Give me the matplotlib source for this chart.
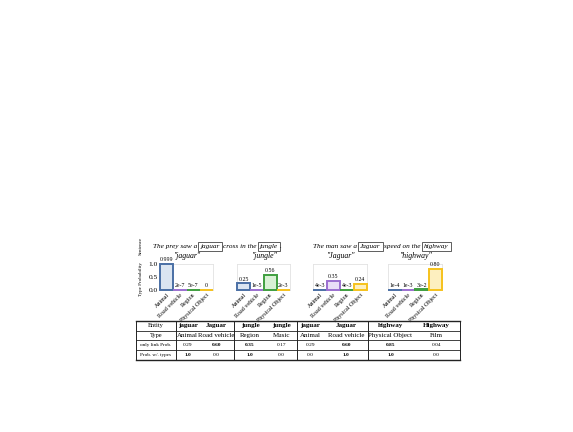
import matplotlib
matplotlib.use("Agg")
import matplotlib.pyplot as plt
from matplotlib.lines import Line2D

W, H = 573, 432
fig = plt.figure(figsize=(W / 100, H / 100), dpi=100)
plt.rcParams['font.family'] = ['Liberation Serif', 'DejaVu Serif']

# ---------------- data ----------------
categories = ["Animal", "Road vehicle", "Region", "Physical Object"]
panel_titles = ['"jaguar"', '"jungle"', '"Jaguar"', '"highway"']
panel_values = [
    [0.999, 2e-7, 5e-7, 0.0],
    [0.25, 1e-5, 0.56, 2e-3],
    [4e-3, 0.35, 4e-3, 0.24],
    [1e-4, 1e-3, 3e-2, 0.80],
]
panel_value_labels = [
    ["0.999", "2e-7", "5e-7", "0"],
    ["0.25", "1e-5", "0.56", "2e-3"],
    ["4e-3", "0.35", "4e-3", "0.24"],
    ["1e-4", "1e-3", "3e-2", "0.80"],
]
sentence_left = [("The prey saw a ", False), ("jaguar", True), (" cross in the ", False),
                 ("jungle", True), (".", False)]
sentence_right = [("The man saw a ", False), ("Jaguar", True), (" speed on the ", False),
                  ("highway", True)]

row_labels = ["Entity", "Type", "only link Prob.", "Prob. w/. types"]
entities = ["jaguar", "Jaguar", "jungle", "jungle", "jaguar", "Jaguar", "highway", "Highway"]
types = ["Animal", "Road vehicle", "Region", "Music", "Animal", "Road vehicle",
         "Physical Object", "Film"]
only_link = [0.29, 0.60, 0.35, 0.17, 0.29, 0.60, 0.85, 0.04]
with_types = [1.0, 0.0, 1.0, 0.0, 0.0, 1.0, 1.0, 0.0]

edge_colors = ["#4a6fa5", "#9b6fd0", "#3f9f3f", "#f6c21c"]
face_colors = ["#dbe5f1", "#e9ddf7", "#d9f1d5", "#fdefbf"]


def fx(x):
    return x / W


def fy(y):
    return 1 - y / H


def add_axes_px(x0, y0, x1, y1):
    return fig.add_axes([fx(x0), fy(y1), (x1 - x0) / W, (y1 - y0) / H])


# ---------------- bar panels ----------------
panel_x = [(160, 213), (237, 290), (313, 367), (388, 442)]
ay0, ay1 = 263.5, 290
for i, (x0, x1) in enumerate(panel_x):
    ax = add_axes_px(x0, ay0, x1, ay1)
    vals = panel_values[i]
    xs = list(range(len(categories)))
    bars = ax.bar(xs, vals, width=1.0, color=face_colors, edgecolor=edge_colors,
                  linewidth=1.4, zorder=3)
    for b in bars:
        b.set_clip_on(False)
    ax.set_xlim(-0.5, 3.5)
    ax.set_ylim(0, 1.0)
    for sp in ax.spines.values():
        sp.set_color("#e2e2e2")
        sp.set_linewidth(0.6)
    ax.set_xticks(xs)
    ax.set_xticklabels(categories, rotation=45, ha="right", rotation_mode="anchor",
                       fontsize=4.3)
    ax.tick_params(axis="x", length=0, pad=1.8)
    if i == 0:
        ax.set_yticks([0.0, 0.5, 1.0])
        ax.set_yticklabels(["0.0", "0.5", "1.0"], fontsize=5.3)
        ax.tick_params(axis="y", length=0, pad=1.5)
    else:
        ax.set_yticks([])
    for xv, v, lab in zip(xs, vals, panel_value_labels[i]):
        ax.annotate(lab, (xv, v), xytext=(0, 1.2), textcoords="offset points",
                    ha="center", va="bottom", fontsize=4.2, annotation_clip=False)
    fig.text(fx((x0 + x1) / 2), fy(255.5), panel_titles[i], ha="center", va="center",
             fontsize=5.6, fontstyle="italic")

# side labels
fig.text(fx(141), fy(246), "Sentence", rotation=90, ha="center", va="center", fontsize=3.6)
fig.text(fx(141), fy(279), "Type Probability", rotation=90, ha="center", va="center",
         fontsize=3.6)

# ---------------- sentences ----------------
renderer = fig.canvas.get_renderer()


def draw_sentence(pieces, x_start, y_center, size):
    x = x_start
    for txt, boxed in pieces:
        kw = dict(ha="left", va="center", fontsize=size, fontstyle="italic")
        if boxed:
            x += 1.6
            kw["bbox"] = dict(boxstyle="square,pad=0.3", fc="none", ec="#444444", lw=0.6)
        lead = len(txt) - len(txt.lstrip(" "))
        x += 1.7 * lead
        t = fig.text(fx(x), fy(y_center), txt.strip(" "), **kw)
        bb = t.get_window_extent(renderer)
        x = bb.x1
        trail = len(txt) - len(txt.rstrip(" "))
        x += 1.7 * trail
        if boxed:
            x += 1.6


draw_sentence(sentence_left, 153, 246.5, 5.2)
draw_sentence(sentence_right, 313, 246.5, 5.2)

# ---------------- table ----------------
tx0, tx1 = 136, 460
col_edges = [136, 176, 199, 234, 266, 297, 324, 368, 413, 460]
row_edges = [321, 330.5, 340.3, 350.1, 360]
major_v = [136, 176, 234, 297, 368, 460]

for y in row_edges:
    lw = 1.0 if y in (row_edges[0], row_edges[-1]) else 0.6
    fig.add_artist(Line2D([fx(tx0), fx(tx1)], [fy(y), fy(y)], color="#222222", lw=lw))
for x in major_v:
    fig.add_artist(Line2D([fx(x), fx(x)], [fy(row_edges[0]), fy(row_edges[-1])],
                          color="#222222", lw=0.7))


def ycen(r):
    return (row_edges[r] + row_edges[r + 1]) / 2


label_sizes = [4.6, 4.6, 3.7, 3.7]
for r, lab in enumerate(row_labels):
    fig.text(fx((col_edges[0] + col_edges[1]) / 2), fy(ycen(r)), lab, ha="center",
             va="center", fontsize=label_sizes[r])

for c in range(len(entities)):
    cx = fx((col_edges[c + 1] + col_edges[c + 2]) / 2)
    fig.text(cx, fy(ycen(0)), entities[c], ha="center", va="center", fontsize=5.0,
             fontweight="bold")
    fig.text(cx, fy(ycen(1)), types[c], ha="center", va="center", fontsize=5.0)
    group = c // 2
    best = max(only_link[2 * group:2 * group + 2])
    fig.text(cx, fy(ycen(2)), f"{only_link[c]:.2f}", ha="center", va="center",
             fontsize=3.9, fontweight="bold" if only_link[c] == best else "normal")
    fig.text(cx, fy(ycen(3)), f"{with_types[c]:.1f}", ha="center", va="center",
             fontsize=3.9, fontweight="bold" if with_types[c] == 1.0 else "normal")

fig.savefig("out.png", dpi=100)
